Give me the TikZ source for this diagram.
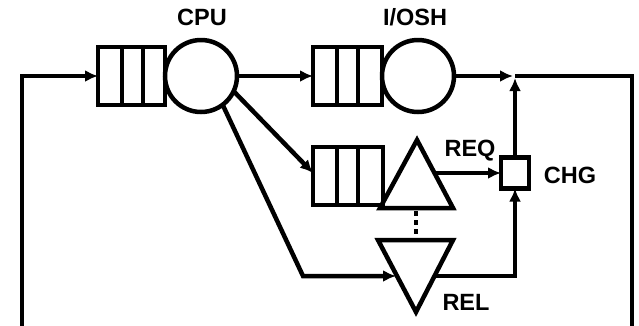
\documentclass[tikz,border=0pt]{standalone}
\usepackage{fontspec}
\setmainfont{Liberation Sans}
\usetikzlibrary{arrows.meta}
\begin{document}
\begin{tikzpicture}[x=1pt,y=-1pt,
  line width=4.5pt,
  every node/.style={inner sep=0pt, outer sep=0pt},
  queue/.style={draw, rectangle, minimum width=#1, minimum height=58pt},
  server/.style={draw, circle, minimum size=72pt},
  chgbox/.style={draw, rectangle, minimum width=28pt, minimum height=31pt},
  lbl/.style={font=\bfseries\fontsize{23.5}{23.5}\selectfont},
  flow/.style={-{Latex[length=13pt,width=12pt]}},
  slots/.style={line width=4.5pt}
]
\useasboundingbox (0,0) rectangle (639,325);

% CPU station: queue + server
\node[queue=67pt] (cpuq) at (131.5,76) {};
\draw[slots] ([xshift=24pt]cpuq.north west) -- ([xshift=24pt]cpuq.south west);
\draw[slots] ([xshift=45pt]cpuq.north west) -- ([xshift=45pt]cpuq.south west);
\node[server] (cpu) at (201,76) {};
\node[lbl] (cpulbl) at (202,17) {CPU};

% I/O station: queue + server
\node[queue=69pt] (ioq) at (347.5,76) {};
\draw[slots] ([xshift=24pt]ioq.north west) -- ([xshift=24pt]ioq.south west);
\draw[slots] ([xshift=45pt]ioq.north west) -- ([xshift=45pt]ioq.south west);
\node[server] (io) at (418,76) {};
\node[lbl] (iolbl) at (415,17) {I/OSH};

% passive resource: request queue, REQ/REL triangles, CHG box
\node[queue=70pt] (reqq) at (348,176) {};
\draw[slots] ([xshift=24pt]reqq.north west) -- ([xshift=24pt]reqq.south west);
\draw[slots] ([xshift=45pt]reqq.north west) -- ([xshift=45pt]reqq.south west);

\coordinate (reqa) at (417,140);
\coordinate (reqr) at (453,208);
\coordinate (reql) at (380,208);
\draw[line join=miter] (reqa) -- (reqr) -- (reql) -- cycle;

\coordinate (rela) at (416,312);
\coordinate (relr) at (453,240);
\coordinate (rell) at (378,240);
\draw[line join=miter] (rela) -- (relr) -- (rell) -- cycle;

\coordinate (dtop) at (416,211);
\coordinate (dbot) at (416,238);
\draw[dash pattern=on 5pt off 4pt] (dtop) -- (dbot);

\node[chgbox] (chg) at (515,173) {};
\node[lbl] (reqlbl) at (470,151) {REQ};
\node[lbl] (chglbl) at (570,175) {CHG};
\node[lbl] (rellbl) at (466,302) {REL};

% connectors
\coordinate (lb) at (22,330);
\coordinate (lt) at (22,76);
\draw[flow] (lb) -- (lt) -- (cpuq.west);
\draw[flow] (cpu.east) -- (ioq.west);

\coordinate (jn) at (515,76);
\coordinate (rt) at (632,76);
\coordinate (rb) at (632,330);
\draw[flow, shorten >=2pt] (io.east) -- (jn);
\draw[flow, shorten >=2pt] (chg.north) -- (jn);
\draw (jn) -- (rt) -- (rb);

\draw[flow] (cpu.-25) -- ([yshift=3pt]reqq.west);

\coordinate (rk) at (303,276);
\coordinate (relin) at (396,276);
\draw[flow] (cpu.-53) -- (rk) -- (relin);

\coordinate (reqo) at (435,173);
\draw[flow] (reqo) -- (chg.west);

\coordinate (relo) at (434,276);
\coordinate (rc) at (515,276);
\draw[flow] (relo) -- (rc) -- (chg.south);
\end{tikzpicture}
\end{document}
